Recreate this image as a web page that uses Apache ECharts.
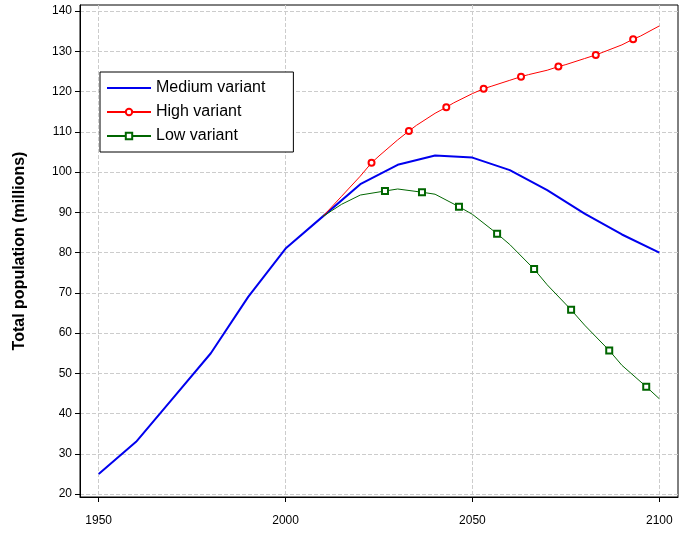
<!DOCTYPE html>
<html><head><meta charset="utf-8">
<script src="https://cdn.jsdelivr.net/npm/echarts@6/dist/echarts.min.js"></script>
<style>html,body{margin:0;background:#fff}#c{width:679px;height:535px}</style>
</head><body><div id="c"></div>
<script>
var medYears=[1950,1960,1970,1980,1990,2000,2010,2020,2030,2040,2050,2060,2070,2080,2090,2100];
var medVals=[25,33,44,55,69,81,89,97,101.8,104.1,103.6,100.5,95.5,89.7,84.5,80];
var highYears=[2010,2015,2020,2023,2025,2030,2033,2035,2040,2043,2045,2050,2053,2055,2060,2063,2065,2070,2073,2075,2080,2083,2085,2090,2093,2095,2100];
var highVals=[89,94,99,102.3,104,108,110.2,111.6,114.6,116.1,117.2,119.5,120.7,121.3,122.8,123.7,124.2,125.3,126.2,126.7,128.2,129.1,129.8,131.6,133,133.8,136.3];
var highMarks=[2023,2033,2043,2053,2063,2073,2083,2093];
var lowYears=[2010,2015,2020,2026.6,2030,2036.5,2040,2046.4,2050,2056.6,2060,2066.5,2070,2076.4,2080,2086.6,2090,2096.5,2100];
var lowVals=[89,92,94.3,95.3,95.8,95,94.5,91.4,89.5,84.7,82,75.9,72,65.8,62,55.7,52,46.7,43.7];
var lowMarks=[2026.6,2036.5,2046.4,2056.6,2066.5,2076.4,2086.6,2096.5];
var xTicks=[1950,2000,2050,2100];
var yTicks=[20,30,40,50,60,70,80,90,100,110,120,130,140];

function pts(xs,ys,marks){
  return xs.map(function(x,i){
    var p={value:[x,ys[i]]};
    if(marks && marks.indexOf(x)<0) p.symbol='none';
    return p;
  });
}
var chart=echarts.init(document.getElementById('c'));
chart.setOption({
  animation:false,
  textStyle:{fontFamily:'Liberation Sans, Arial'},
  grid:{left:80,right:1,top:5,bottom:38,show:true,borderColor:'#000',borderWidth:1},
  legend:{left:100,top:72,orient:'vertical',backgroundColor:'#fff',borderColor:'#000',borderWidth:1,
    padding:[8,28,8,6],itemGap:8,itemWidth:44,itemHeight:8,textStyle:{fontSize:16,color:'#000'},
    data:[{name:'Medium variant',itemStyle:{opacity:0}},'High variant','Low variant']},
  xAxis:{type:'value',min:1945,max:2105,interval:50,
    axisLabel:{customValues:xTicks,color:'#000',fontSize:12,margin:18,formatter:function(v){return String(v);}},
    axisTick:{customValues:xTicks,length:5,lineStyle:{color:'#000'}},
    axisLine:{lineStyle:{color:'#000'}},
    splitLine:{show:true,lineStyle:{color:'#ccc',type:'dashed'}}},
  yAxis:{type:'value',min:19.3,max:141.5,
    name:'Total population (millions)',nameLocation:'middle',nameGap:52,
    nameTextStyle:{fontSize:16,fontWeight:'bold',color:'#000'},
    axisLabel:{customValues:yTicks,color:'#000',fontSize:12},
    axisTick:{customValues:yTicks,length:5,lineStyle:{color:'#000'}},
    axisLine:{show:true,lineStyle:{color:'#000'}},
    splitLine:{show:true,lineStyle:{color:'#ccc',type:'dashed'}}},
  series:[
    {name:'Medium variant',type:'line',symbol:'none',data:pts(medYears,medVals),lineStyle:{color:'#0000ee',width:2},itemStyle:{color:'#0000ee'}},
    {name:'High variant',type:'line',symbol:'emptyCircle',symbolSize:6,data:pts(highYears,highVals,highMarks),lineStyle:{color:'#ff0000',width:1},itemStyle:{color:'#ff0000',borderWidth:1}},
    {name:'Low variant',type:'line',symbol:'emptyRect',symbolSize:6,data:pts(lowYears,lowVals,lowMarks),lineStyle:{color:'#006600',width:1},itemStyle:{color:'#006600',borderWidth:1}}
  ]
});
</script></body></html>
